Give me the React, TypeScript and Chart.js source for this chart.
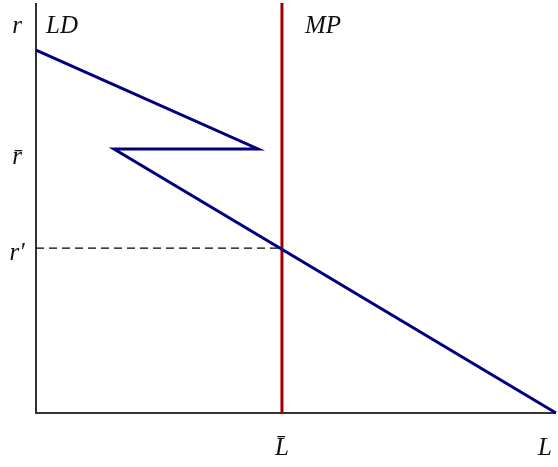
import React, { useEffect, useRef } from "react";
import { Chart, registerables } from "chart.js";

Chart.register(...registerables);

const ldX = [0, 4.27, 1.5, 10];
const ldY = [8.85, 6.44, 6.44, 0];
const mpX = [4.73, 4.73];
const mpY = [0, 10];
const rPrime = 4.02;
const dashX = [0, 4.73];
const dashY = [rPrime, rPrime];
const rBar = 6.44;
const lBar = 4.73;

const axisLabels = {
  r: "r",
  ld: "LD",
  mp: "MP",
  rBar: "r\u0304",
  rPrime: "r\u2032",
  lBar: "L\u0304",
  l: "L",
};

const toPts = (xs: number[], ys: number[]) => xs.map((x, i) => ({ x, y: ys[i] }));

const overlay = {
  id: "overlay",
  beforeDatasetsDraw(chart: any) {
    const { ctx, scales } = chart;
    const x = scales.x;
    const y = scales.y;
    ctx.save();
    ctx.strokeStyle = "#333333";
    ctx.lineWidth = 2;
    ctx.beginPath();
    ctx.moveTo(x.getPixelForValue(0), y.getPixelForValue(10));
    ctx.lineTo(x.getPixelForValue(0), y.getPixelForValue(0));
    ctx.lineTo(x.getPixelForValue(10), y.getPixelForValue(0));
    ctx.stroke();
    ctx.restore();
  },
  afterDatasetsDraw(chart: any) {
    const { ctx, scales } = chart;
    const x = scales.x;
    const y = scales.y;
    ctx.save();
    ctx.fillStyle = "#111111";
    ctx.font = "italic 25px 'Liberation Serif', 'DejaVu Serif', serif";
    ctx.textBaseline = "alphabetic";
    ctx.textAlign = "center";
    const x0 = x.getPixelForValue(0);
    ctx.fillText(axisLabels.r, x0 - 19, 33);
    ctx.fillText(axisLabels.rBar, x0 - 19, y.getPixelForValue(rBar) + 15);
    ctx.fillText(axisLabels.rPrime, x0 - 19, y.getPixelForValue(rPrime) + 12);
    ctx.fillText(axisLabels.lBar, x.getPixelForValue(lBar), 455);
    ctx.fillText(axisLabels.l, x.getPixelForValue(10) - 11, 455);
    ctx.textAlign = "left";
    ctx.fillText(axisLabels.ld, x0 + 10, 33);
    ctx.fillText(axisLabels.mp, x.getPixelForValue(lBar) + 23, 33);
    ctx.restore();
  },
};

export default function App() {
  const ref = useRef<HTMLCanvasElement>(null);
  useEffect(() => {
    if (!ref.current) return;
    const chart = new Chart(ref.current, {
      type: "line",
      data: {
        datasets: [
          {
            data: toPts(dashX, dashY),
            borderColor: "#000000",
            borderWidth: 1.3,
            borderDash: [8, 5],
            pointRadius: 0,
            clip: false,
          } as any,
          {
            data: toPts(ldX, ldY),
            borderColor: "#00007f",
            borderWidth: 3,
            pointRadius: 0,
            tension: 0,
            clip: false,
          } as any,
          {
            data: toPts(mpX, mpY),
            borderColor: "#a00000",
            borderWidth: 3,
            pointRadius: 0,
            clip: false,
          } as any,
        ],
      },
      options: {
        animation: false,
        responsive: false,
        parsing: false as any,
        layout: { padding: { left: 36, right: 2, top: 3, bottom: 54 } },
        plugins: { legend: { display: false }, tooltip: { enabled: false } },
        scales: {
          x: { type: "linear", min: 0, max: 10, display: false },
          y: { type: "linear", min: 0, max: 10, display: false },
        },
      },
      plugins: [overlay],
    });
    return () => chart.destroy();
  }, []);
  return (
    <div style={{ position: "absolute", left: 0, top: 0, width: 558, height: 467, background: "#fff" }}>
      <canvas ref={ref} width={558} height={467} style={{ width: 558, height: 467 }} />
    </div>
  );
}
